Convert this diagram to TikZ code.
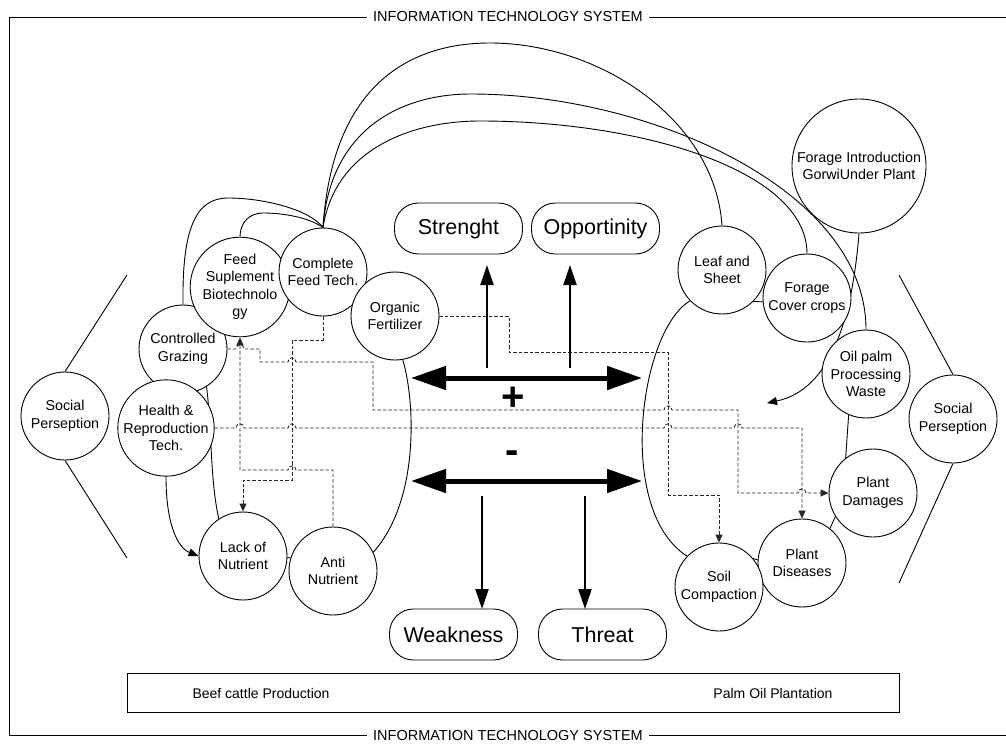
\documentclass[tikz,border=0pt]{standalone}
\usepackage{fontspec}
\setmainfont{Liberation Sans}
\usetikzlibrary{arrows.meta}
\pgfdeclarelayer{bg}
\pgfsetlayers{bg,main}
\begin{document}
\begin{tikzpicture}[x=1pt,y=-1pt,
  circ/.style={circle,draw,fill=white,minimum size=88pt,inner sep=0pt,align=center,
    font=\fontsize{14.3}{17.5}\selectfont,line width=0.9pt},
  pill/.style={draw,rounded corners=24pt,minimum width=128pt,minimum height=51pt,inner sep=0pt,
    font=\fontsize{21.5}{24}\selectfont,line width=0.9pt},
  conn/.style={line width=0.9pt},
  dconn/.style={line width=0.9pt,dash pattern=on 3.5pt off 2pt,black!85},
  darr/.style={-{Triangle[length=8pt,width=7pt]}},
  sarr/.style={-{Triangle[length=10pt,width=8pt]}},
  vbig/.style={line width=2.2pt,-{Triangle[length=20pt,width=13pt]}},
  dbl/.style={line width=5pt,{Triangle[length=35pt,width=23pt]}-{Triangle[length=35pt,width=23pt]}},
  sign/.style={font=\fontsize{40}{40}\selectfont\bfseries,inner sep=0pt},
  ttl/.style={fill=white,inner xsep=6pt,inner ysep=2pt,font=\fontsize{14.5}{16}\selectfont},
  lbl/.style={font=\fontsize{14}{16}\selectfont,inner sep=0pt}
]
\useasboundingbox (0,0) rectangle (1006,744);

% frame
\draw[line width=0.9pt] (1006,17) -- (9,17) -- (9,735) -- (1006,735);
\node[ttl] (ttop) at (508,17) {INFORMATION TECHNOLOGY SYSTEM};
\node[ttl] (tbot) at (508,735) {INFORMATION TECHNOLOGY SYSTEM};

% bottom box
\node[draw,line width=0.9pt,minimum width=772pt,minimum height=39pt,inner sep=0pt] (base) at (513,692.5) {};
\node[lbl] (beef) at (261,693) {Beef cattle Production};
\node[lbl] (palm) at (773,693) {Palm Oil Plantation};

% SWOT boxes
\node[pill] (str) at (458.5,228.5) {Strenght};
\node[pill] (opp) at (595.5,228.5) {Opportinity};
\node[pill] (wea) at (453.5,634.5) {Weakness};
\node[pill] (thr) at (602.5,634.5) {Threat};

% circles (order matters for overlap)
\node[circ] (spl) at (65,416) {Social\\Perseption};
\node[circ] (cg)  at (183,349) {Controlled\\Grazing};
\node[circ,minimum size=96pt] (hrt) at (166,428) {Health \&\\Reproduction\\Tech.};
\node[circ] (fsb) at (240,287) {Feed\\Suplement\\Biotechnolo\\gy};
\node[circ] (cft) at (323,272) {Complete\\Feed Tech.};
\node[circ] (ofz) at (395,316) {Organic\\Fertilizer};
\node[circ] (lon) at (243,556) {Lack of\\Nutrient};
\node[circ] (ant) at (333,571) {Anti\\Nutrient};
\node[circ] (lsh) at (722,270) {Leaf and\\Sheet};
\node[circ] (fcc) at (807,298) {Forage\\Cover crops};
\node[circ] (osw) at (866,374) {Oil palm\\Processing\\Waste};
\node[circ,minimum size=134pt] (fig) at (859,166) {Forage Introduction\\GorwiUnder Plant};
\node[circ] (spr) at (953,419) {Social\\Perseption};
\node[circ] (pda) at (873,493) {Plant\\Damages};
\node[circ] (pdi) at (802,563) {Plant\\Diseases};
\node[circ] (soc) at (719,587) {Soil\\Compaction};

% plus / minus
\node[sign] (plus) at (513,399) {+};
\node[sign] (minus) at (512,457) {-};

% coordinates for free ends
\coordinate (bl1) at (127,275);
\coordinate (bl2) at (127,558);
\coordinate (br1) at (899,275);
\coordinate (br2) at (899,583);
\coordinate (su0) at (487,368); \coordinate (su1) at (487,265);
\coordinate (ou0) at (570,368); \coordinate (ou1) at (570,265);
\coordinate (wd0) at (482,496); \coordinate (wd1) at (482,609);
\coordinate (td0) at (585,496); \coordinate (td1) at (585,609);
\coordinate (pl0) at (411,378); \coordinate (pl1) at (642,378);
\coordinate (mi0) at (411,481); \coordinate (mi1) at (642,481);
\coordinate (figtip) at (767,403);

% brackets
\draw[conn] (bl1) -- (spl.90);
\draw[conn] (spl.270) -- (bl2);
\draw[conn] (br1) -- (spr.90);
\draw[conn] (spr.270) -- (br2);

% SWOT arrows
\draw[vbig] (su0) -- (su1);
\draw[vbig] (ou0) -- (ou1);
\draw[vbig] (wd0) -- (wd1);
\draw[vbig] (td0) -- (td1);
\draw[dbl] (pl0) -- (pl1);
\draw[dbl] (mi0) -- (mi1);

\begin{pgfonlayer}{bg}
% solid connectors left
\draw[conn] (cg.90) .. controls (182,230) and (195,198) .. (228,198)
   .. controls (265,198) and (310,210) .. (cft.90);
\draw[conn] (fsb.90) .. controls (240,222) and (250,213) .. (263,213)
   .. controls (285,213) and (310,218) .. (cft.90);
\draw[conn] (cft.90) .. controls (333,75) and (420,43) .. (490,43)
   .. controls (600,43) and (715,120) .. (lsh.90);
\draw[conn] (cft.90) .. controls (330,130) and (400,94) .. (471,94)
   .. controls (650,94) and (866,190) .. (osw.90);
\draw[conn] (cft.90) .. controls (335,150) and (410,121) .. (480,121)
   .. controls (640,121) and (807,170) .. (fcc.90);
\draw[conn] (fsb.-15) -- (cft.220);
\draw[conn] (cg.-58) .. controls (212,430) and (210,480) .. (lon.123);
\draw[conn,sarr] (hrt.270) .. controls (166,525) and (178,548) .. (lon.180);
\draw[conn] (lon.-2) -- (ant.163);
\draw[conn] (ofz.-80) .. controls (415,400) and (420,500) .. (ant.25);
% solid connectors right
\draw[conn] (lsh.224) .. controls (640,330) and (615,510) .. (soc.136);
\draw[conn] (lsh.-45) -- (fcc.185);
\draw[conn,sarr] (fig.270) .. controls (852,320) and (830,390) .. (figtip);
\draw[conn] (osw.247) -- (pda.128);
\draw[conn] (pdi.51) -- (pda.212);
\draw[conn] (soc.40) -- (pdi.176);

% dashed connectors
\draw[dconn,darr] (ofz.0) -- (509,316) -- (509,352) -- (668,352) -- (668,495) -- (719,495) -- (soc.90);
\draw[dconn,darr] (cft.270) -- (323,340) -- (292,340) -- (292,480) -- (243,480) -- (lon.90);
\draw[dconn,darr] (ant.90) -- (333,470) -- (296,470)
   .. controls (296,464.5) and (288,464.5) .. (288,470) -- (240,470) -- (fsb.270);
\draw[dconn,darr] (cg.0) -- (236,349) .. controls (236,343.5) and (244,343.5) .. (244,349)
   -- (260,349) -- (260,362) -- (288,362) .. controls (288,356.5) and (296,356.5) .. (296,362)
   -- (373,362) -- (373,410) -- (664,410) .. controls (664,404.5) and (672,404.5) .. (672,410)
   -- (738,410) -- (738,493) -- (798,493) .. controls (798,487.5) and (806,487.5) .. (806,493)
   -- (pda.180);
\draw[dconn,darr] (hrt.0) -- (236,428) .. controls (236,422.5) and (244,422.5) .. (244,428)
   -- (288,428) .. controls (288,422.5) and (296,422.5) .. (296,428)
   -- (664,428) .. controls (664,422.5) and (672,422.5) .. (672,428)
   -- (734,428) .. controls (734,422.5) and (742,422.5) .. (742,428)
   -- (802,428) -- (pdi.90);
\end{pgfonlayer}
\end{tikzpicture}
\end{document}
